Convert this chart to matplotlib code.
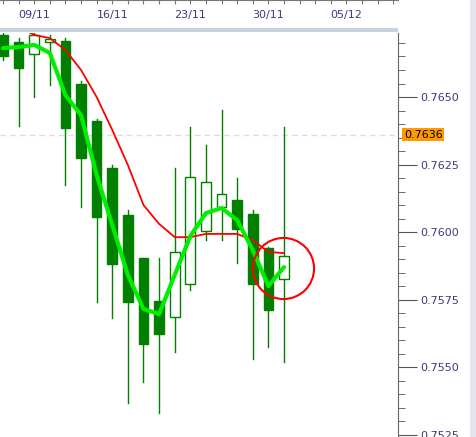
import numpy as np
import matplotlib.pyplot as plt
from matplotlib.patches import Rectangle
from matplotlib.ticker import MultipleLocator

# daily candles, index 0 = 05/11
opens = [0.76730, 0.76704, 0.76659, 0.76704, 0.76707, 0.76548, 0.76411, 0.76237, 0.76063, 0.75904,
         0.75744, 0.75685, 0.75807, 0.76004, 0.76093, 0.76119, 0.76067, 0.75941, 0.75826]
highs = [0.76760, 0.76718, 0.76740, 0.76730, 0.76718, 0.76560, 0.76420, 0.76250, 0.76081, 0.75904,
         0.75904, 0.76237, 0.76389, 0.76322, 0.76452, 0.76200, 0.76081, 0.75944, 0.76389]
lows = [0.76637, 0.76393, 0.76500, 0.76544, 0.76174, 0.76093, 0.75741, 0.75681, 0.75367, 0.75444,
        0.75330, 0.75556, 0.75785, 0.75970, 0.75970, 0.75885, 0.75530, 0.75574, 0.75519]
closes = [0.76652, 0.76607, 0.76730, 0.76715, 0.76385, 0.76274, 0.76056, 0.75881, 0.75741, 0.75585,
          0.75622, 0.75926, 0.76204, 0.76185, 0.76141, 0.76011, 0.75807, 0.75711, 0.75911]

red_idx = list(range(1, 19))
red_ma = [0.76760, 0.76730, 0.76718, 0.76674, 0.76600, 0.76500, 0.76378, 0.76248, 0.76100, 0.76030,
          0.75981, 0.75981, 0.75993, 0.75993, 0.75993, 0.75970, 0.75926, 0.75922]
green_ma = [0.76681, 0.76685, 0.76693, 0.76663, 0.76507, 0.76433, 0.76211, 0.76026, 0.75841, 0.75715,
            0.75696, 0.75841, 0.75985, 0.76070, 0.76089, 0.76044, 0.75933, 0.75800, 0.75870]

date_pos = [2, 7, 12, 17, 22]
date_labels = ["09/11", "16/11", "23/11", "30/11", "05/12"]
last_price = 0.7636
circle_at = (17.95, 0.75867)

W, H = 476, 437
fig = plt.figure(figsize=(W / 100, H / 100), dpi=100)
fig.patch.set_facecolor("white")

x0, x1 = -0.19, 25.3
ax = fig.add_axes([0, 0, 398 / W, 404 / H])
ax.set_xlim(x0, x1)
ax.set_ylim(0.75241, 0.76737)
for s in ["top", "left", "bottom"]:
    ax.spines[s].set_visible(False)
ax.spines["right"].set_color("#666666")
ax.set_xticks([])
ax.yaxis.tick_right()
ax.yaxis.set_major_locator(MultipleLocator(0.0025))
ax.yaxis.set_minor_locator(MultipleLocator(0.0005))
ax.tick_params(axis="y", which="major", length=14, color="#555555", labelsize=8, labelcolor="#3a3a7a", pad=2)
ax.tick_params(axis="y", which="minor", length=5, color="#555555")
ax.yaxis.set_major_formatter(plt.FormatStrFormatter("%.4f"))

ax.axhline(last_price, color="#dddddd", lw=1, ls=(0, (4, 3)))

w = 0.62
for i, (o, h, l, c) in enumerate(zip(opens, highs, lows, closes)):
    ax.plot([i, i], [l, h], color="#007f00", lw=1, zorder=2)
    dark = c < o
    ax.add_patch(Rectangle((i - w / 2, min(o, c)), w, abs(c - o),
                           facecolor="#007f00" if dark else "white",
                           edgecolor="#007f00", lw=1, zorder=3))

ax.plot(red_idx, red_ma, color="#ff0000", lw=1.3, zorder=4)
ax.plot(range(len(green_ma)), green_ma, color="#00ee00", lw=3, zorder=5, solid_capstyle="round")
ax.plot([circle_at[0]], [circle_at[1]], "o", ms=44, mfc="none", mec="#ff0000", mew=1.5, zorder=6)

ax.text(1.015, (last_price - 0.75241) / (0.76737 - 0.75241), "%.4f" % last_price,
        transform=ax.transAxes, fontsize=8, color="black", va="center", ha="left",
        bbox=dict(boxstyle="square,pad=0.15", fc="#ff9900", ec="none"))

# top date bar
top = fig.add_axes([0, 1 - 28 / H, 398 / W, 28 / H])
top.set_xlim(x0, x1)
top.set_ylim(0, 1)
top.set_yticks([])
for s in ["left", "right", "bottom"]:
    top.spines[s].set_visible(False)
top.spines["top"].set_color("#777777")
top.set_xticks(np.arange(0, 26, 1))
top.set_xticklabels([])
top.tick_params(axis="x", direction="in", top=True, bottom=False, length=3, color="#777777")
for p, lab in zip(date_pos, date_labels):
    top.text(p, 0.45, lab, ha="center", va="center", fontsize=8, color="#3a3a7a")

# separator band below date bar
band = fig.add_axes([0, 1 - 33 / H, 398 / W, 5 / H])
band.set_axis_off()
band.add_patch(Rectangle((0, 0.3), 1, 0.7, transform=band.transAxes, fc="#c8d2dc", ec="none"))

# right edge strip
strip = fig.add_axes([470 / W, 0, 6 / W, 1])
strip.set_axis_off()
strip.add_patch(Rectangle((0, 0), 1, 1, transform=strip.transAxes, fc="#e4e4f0", ec="none"))

fig.savefig("out.png", dpi=100)
